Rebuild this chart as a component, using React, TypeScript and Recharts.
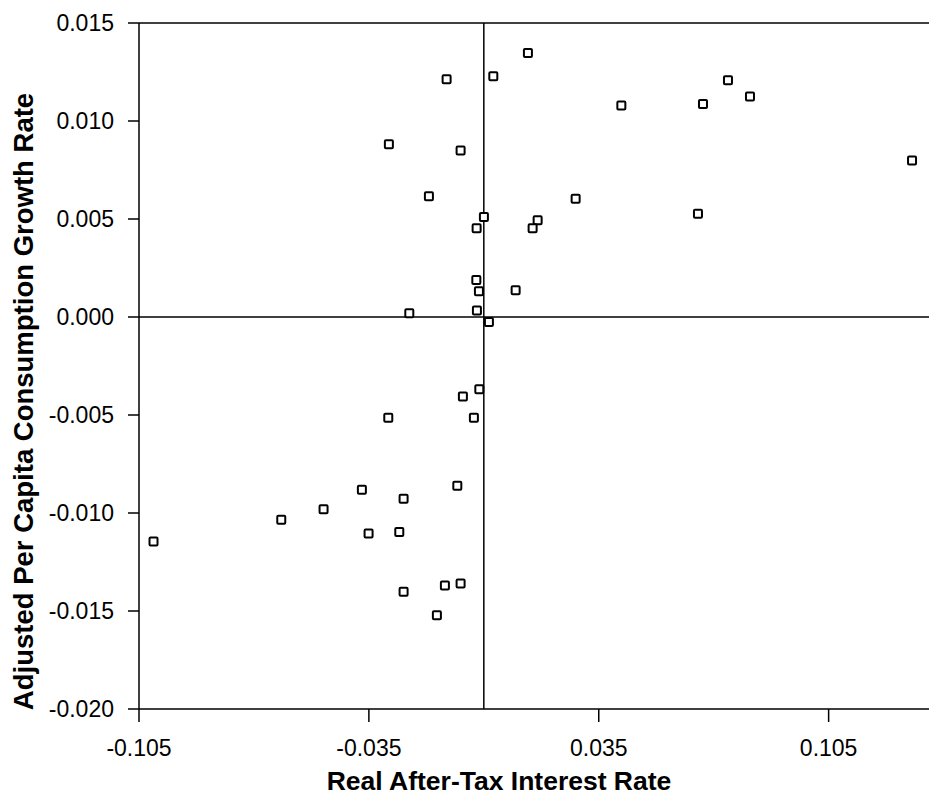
import React from 'react';
import { ScatterChart, Scatter, XAxis, YAxis, ReferenceLine, Label } from 'recharts';

const rateX: number[] = [
  0.01343, -0.01133, 0.00289, 0.04188, -0.02891, -0.00707, -0.01672, 0.02796, 0.00003, -0.00219,
  0.01639, 0.01486, -0.00228, -0.00149, 0.00969, -0.02269, -0.0021, 0.00155, -0.00137, -0.00637,
  -0.02909, -0.00302, -0.03713, -0.02443, -0.0488, -0.06168, -0.10058, -0.03509, -0.02574, -0.00807,
  -0.02443, -0.01185, -0.00707, -0.01429, 0.06674, 0.07435, 0.08105, 0.1304, 0.06521,
];
const growthY: number[] = [
  0.01347, 0.01213, 0.01228, 0.01079, 0.00882, 0.0085, 0.00616, 0.00603, 0.0051, 0.00453,
  0.00493, 0.00453, 0.00189, 0.00131, 0.00137, 0.00019, 0.00033, -0.00026, -0.00368, -0.00406,
  -0.00514, -0.00514, -0.00881, -0.00927, -0.00981, -0.01034, -0.01146, -0.01105, -0.01097, -0.00861,
  -0.01402, -0.0137, -0.0136, -0.01522, 0.01087, 0.01208, 0.01125, 0.00799, 0.00527,
];
const xTicks: number[] = [-0.105, -0.035, 0.035, 0.105];
const yTicks: number[] = [-0.02, -0.015, -0.01, -0.005, 0, 0.005, 0.01, 0.015];
const xTitle = 'Real After-Tax Interest Rate';
const yTitle = 'Adjusted Per Capita Consumption Growth Rate';

const points = rateX.map((x, i) => ({ x, y: growthY[i] }));

const FONT = '"Liberation Sans", Arial, Helvetica, sans-serif';

const SquareShape = (props: any) => {
  const { cx, cy } = props;
  if (cx == null || cy == null) return null;
  return (
    <rect x={cx - 4} y={cy - 4} width={8} height={8} rx={1} fill="#fff" stroke="#000" strokeWidth={2} />
  );
};

export default function App() {
  return (
    <div style={{ position: 'relative', left: -8, top: -8, width: 937, height: 803, background: '#fff' }}>
      <ScatterChart width={937} height={803} margin={{ top: 23, right: 0, bottom: 0, left: 0 }}>
        <XAxis
          type="number"
          dataKey="x"
          domain={[-0.105, 0.138]}
          allowDataOverflow
          ticks={xTicks}
          tickFormatter={(v: number) => v.toFixed(3)}
          height={94}
          tickSize={13}
          tickMargin={18}
          stroke="#000"
          strokeWidth={1.5}
          tick={{ fill: '#000', fontSize: 23, fontFamily: FONT }}
          tickLine={{ stroke: '#000', strokeWidth: 1.5 }}
        >
          <Label
            content={() => (
              <text x={499} y={790} textAnchor="middle" fontFamily={FONT} fontWeight="bold" fontSize={26.5} fill="#000">
                {xTitle}
              </text>
            )}
          />
        </XAxis>
        <YAxis
          type="number"
          dataKey="y"
          domain={[-0.02, 0.015]}
          allowDataOverflow
          ticks={yTicks}
          tickFormatter={(v: number) => v.toFixed(3)}
          width={139}
          tickSize={11}
          tickMargin={14}
          stroke="#000"
          strokeWidth={1.5}
          tick={{ fill: '#000', fontSize: 23, fontFamily: FONT }}
          tickLine={{ stroke: '#000', strokeWidth: 1.5 }}
        >
          <Label
            content={() => (
              <text
                x={33}
                y={401.5}
                transform="rotate(-90, 33, 401.5)"
                textAnchor="middle"
                fontFamily={FONT}
                fontWeight="bold"
                fontSize={27.5}
                fill="#000"
              >
                {yTitle}
              </text>
            )}
          />
        </YAxis>
        <ReferenceLine y={0.015} stroke="#000" strokeWidth={1.5} />
        <ReferenceLine y={0} stroke="#000" strokeWidth={1.5} />
        <ReferenceLine x={0} stroke="#000" strokeWidth={1.5} />
        <Scatter data={points} shape={SquareShape} isAnimationActive={false} />
      </ScatterChart>
    </div>
  );
}
